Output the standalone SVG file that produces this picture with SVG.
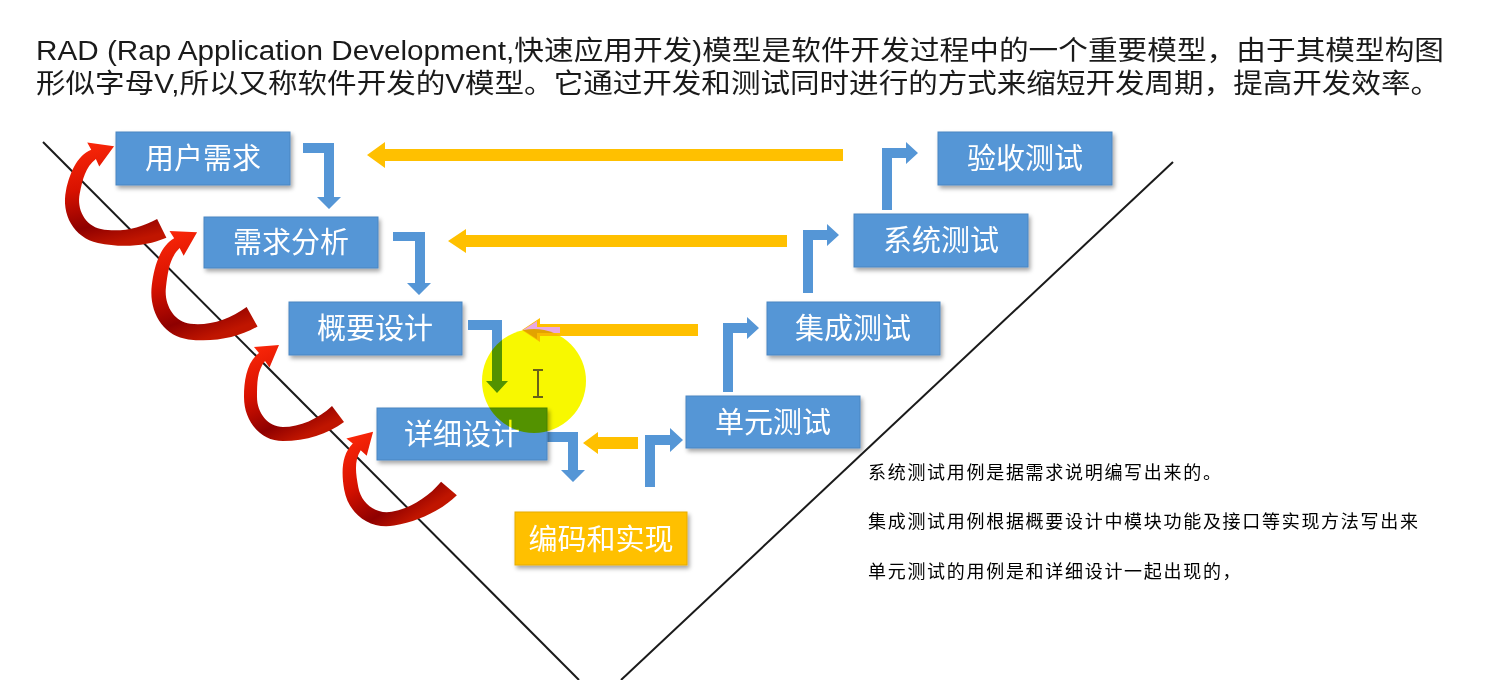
<svg xmlns="http://www.w3.org/2000/svg" width="1503" height="680" viewBox="0 0 1503 680">
<defs>
<style>
.t{font-family:"Liberation Sans","Noto Sans CJK SC",sans-serif;fill:#1a1a1a}
.box{fill:#5596d6;stroke:#4a86c2;stroke-width:1;filter:url(#sh)}
.obox{fill:#ffc000;stroke:#e6ac00;stroke-width:1;filter:url(#sh)}
.bt{font-family:"Liberation Sans","Noto Sans CJK SC",sans-serif;font-size:29px;fill:#ffffff;text-anchor:middle}
.note{font-family:"Liberation Sans","Noto Sans CJK SC",sans-serif;font-size:18px;fill:#000;letter-spacing:1.7px}
.blue{fill:#5596d6}
.gold{fill:#ffc000}
.vline{stroke:#1a1a1a;stroke-width:2;fill:none}
</style>
<filter id="sh" x="-10%" y="-20%" width="125%" height="150%">
<feDropShadow dx="2" dy="3" stdDeviation="2" flood-color="#000" flood-opacity="0.35"/>
</filter>
<linearGradient id="red" x1="0" y1="0" x2="0.5" y2="1">
<stop offset="0" stop-color="#ff2a0a"/>
<stop offset="0.45" stop-color="#d81200"/>
<stop offset="0.8" stop-color="#8e0000"/>
<stop offset="1" stop-color="#c01500"/>
</linearGradient>
<path id="curl" d="M -19,8 C -31,17 -34,35 -34,52 C -34,76 -18,96 5,96 C 28,96 50,89 66,77 L 54,61 C 40,74 22,82 5,82 C -10,82 -21,68 -21,52 C -21,38 -21,26 -13,16 L -8.5,22.5 L 1,0 L -24,2 Z" fill="url(#red)"/>
</defs>
<rect x="0" y="0" width="1503" height="680" fill="#ffffff"/>

<g id="title">
<text class="t" x="36" y="60" font-size="27" textLength="1408" lengthAdjust="spacingAndGlyphs">RAD (Rap Application Development,快速应用开发)模型是软件开发过程中的一个重要模型，由于其模型构图</text>
<text class="t" x="36" y="93" font-size="27" textLength="1404" lengthAdjust="spacingAndGlyphs">形似字母V,所以又称软件开发的V模型。它通过开发和测试同时进行的方式来缩短开发周期，提高开发效率。</text>
</g>

<g id="v-shape">
<line class="vline" x1="43" y1="142" x2="579" y2="680"/>
<line class="vline" x1="621" y1="680" x2="1173" y2="162"/>
</g>

<g id="connectors">
<!-- red curved arrows -->
<use href="#curl" transform="translate(113,146) rotate(12) scale(1.08,1.02)"/>
<use href="#curl" transform="translate(196,232) rotate(7) scale(1.1,1.12)"/>
<use href="#curl" transform="translate(278,345)"/>
<use href="#curl" transform="translate(372,432) rotate(-10) scale(1.1,1)"/>
<!-- blue elbows, development side -->
<polygon class="blue" points="303,143 334,143 334,197 341,197 329,209 317,197 324,197 324,153 303,153"/>
<polygon class="blue" points="393,232 425,232 425,283 431,283 419,295 407,283 415,283 415,241 393,241"/>
<polygon class="blue" points="468,320 502,320 502,381 508,381 497,393 486,381 492,381 492,330 468,330"/>
<polygon class="blue" points="547,432 578,432 578,470 585,470 573,482 561,470 568,470 568,442 547,442"/>
<!-- blue elbows, testing side -->
<polygon class="blue" points="645,487 645,435 670,435 670,428 683,440 670,452 670,445 655,445 655,487"/>
<polygon class="blue" points="723,392 723,323 747,323 747,317 759,328 747,339 747,333 733,333 733,392"/>
<polygon class="blue" points="803,293 803,230 827,230 827,224 839,235 827,246 827,240 813,240 813,293"/>
<polygon class="blue" points="882,210 882,148 906,148 906,142 918,153 906,164 906,158 892,158 892,210"/>
<!-- gold arrows -->
<polygon class="gold" points="843,149 385,149 385,142 367,155 385,168 385,161 843,161"/>
<polygon class="gold" points="787,235 466,235 466,229 448,241 466,253 466,247 787,247"/>
<polygon class="gold" points="698,324 540,324 540,318 522,330 540,342 540,336 698,336"/>
<polygon fill="#e9a8e2" points="560,327 537,327 537,321 523,330 537,339 537,333 560,333"/>
<polygon class="gold" points="638,437 598,437 598,432 583,443 598,454 598,449 638,449"/>
</g>

<g id="n-yonghuxuqiu"><rect class="box" x="116" y="132" width="174" height="53"/><text class="bt" x="203" y="169">用户需求</text></g>
<g id="n-xuqiufenxi"><rect class="box" x="204" y="217" width="174" height="51"/><text class="bt" x="291" y="253">需求分析</text></g>
<g id="n-gaiyaosheji"><rect class="box" x="289" y="302" width="173" height="53"/><text class="bt" x="375" y="339">概要设计</text></g>
<g id="n-xiangxisheji"><rect class="box" x="377" y="408" width="170" height="52"/><text class="bt" x="462" y="445">详细设计</text></g>
<g id="n-bianma"><rect class="obox" x="515" y="512" width="172" height="53"/><text class="bt" x="601" y="550">编码和实现</text></g>
<g id="n-danyuan"><rect class="box" x="686" y="396" width="174" height="52"/><text class="bt" x="773" y="433">单元测试</text></g>
<g id="n-jicheng"><rect class="box" x="767" y="302" width="173" height="53"/><text class="bt" x="853" y="339">集成测试</text></g>
<g id="n-xitong"><rect class="box" x="854" y="214" width="174" height="53"/><text class="bt" x="941" y="251">系统测试</text></g>
<g id="n-yanshou"><rect class="box" x="938" y="132" width="174" height="53"/><text class="bt" x="1025" y="169">验收测试</text></g>

<g id="highlight">
<circle cx="534" cy="381" r="52" fill="#f8f800" style="mix-blend-mode:multiply"/>
<g stroke="#3a3020" stroke-width="1.5" fill="none">
<line x1="538" y1="371" x2="538" y2="396"/>
<line x1="533" y1="370" x2="543" y2="370"/>
<line x1="533" y1="397" x2="543" y2="397"/>
</g>
</g>

<g id="notes">
<text class="note" x="868" y="479">系统测试用例是据需求说明编写出来的。</text>
<text class="note" x="868" y="528">集成测试用例根据概要设计中模块功能及接口等实现方法写出来</text>
<text class="note" x="868" y="578">单元测试的用例是和详细设计一起出现的，</text>
</g>
</svg>
